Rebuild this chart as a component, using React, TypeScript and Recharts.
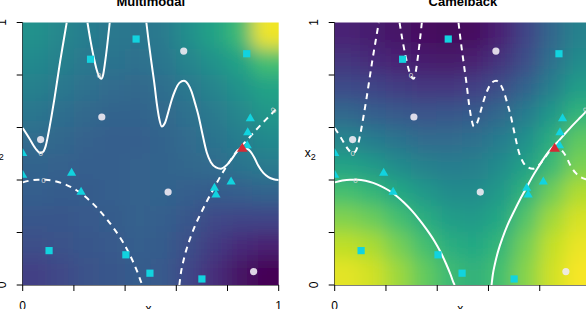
import { ComposedChart, Scatter, XAxis, YAxis } from "recharts"

// heat grid: column centres (x) and row centres (y, top row first)
const gridX = [0.05, 0.15, 0.25, 0.35, 0.45, 0.55, 0.65, 0.75, 0.85, 0.95]
const gridY = [0.95, 0.85, 0.75, 0.65, 0.55, 0.45, 0.35, 0.25, 0.15, 0.05]

const multimodalHeat = [
  [0.50, 0.46, 0.42, 0.40, 0.39, 0.41, 0.49, 0.58, 0.68, 0.98],
  [0.47, 0.43, 0.40, 0.38, 0.37, 0.39, 0.45, 0.51, 0.58, 0.70],
  [0.43, 0.40, 0.37, 0.35, 0.34, 0.36, 0.40, 0.45, 0.51, 0.58],
  [0.39, 0.36, 0.34, 0.32, 0.32, 0.34, 0.37, 0.41, 0.46, 0.52],
  [0.35, 0.33, 0.31, 0.30, 0.30, 0.32, 0.35, 0.38, 0.42, 0.47],
  [0.32, 0.31, 0.30, 0.30, 0.31, 0.32, 0.33, 0.35, 0.38, 0.41],
  [0.30, 0.29, 0.29, 0.30, 0.31, 0.32, 0.30, 0.29, 0.30, 0.32],
  [0.27, 0.27, 0.28, 0.29, 0.31, 0.30, 0.27, 0.22, 0.20, 0.20],
  [0.24, 0.25, 0.27, 0.28, 0.30, 0.29, 0.24, 0.17, 0.12, 0.09],
  [0.19, 0.22, 0.25, 0.27, 0.29, 0.28, 0.21, 0.13, 0.05, 0.00],
]

const camelbackHeat = [
  [0.10, 0.08, 0.06, 0.04, 0.02, 0.04, 0.10, 0.20, 0.33, 0.44],
  [0.15, 0.12, 0.10, 0.08, 0.07, 0.09, 0.15, 0.24, 0.37, 0.48],
  [0.23, 0.20, 0.18, 0.16, 0.16, 0.19, 0.24, 0.32, 0.43, 0.55],
  [0.33, 0.30, 0.28, 0.26, 0.27, 0.29, 0.34, 0.42, 0.53, 0.65],
  [0.45, 0.42, 0.38, 0.35, 0.35, 0.37, 0.42, 0.50, 0.62, 0.75],
  [0.58, 0.54, 0.48, 0.44, 0.42, 0.43, 0.48, 0.57, 0.68, 0.80],
  [0.70, 0.66, 0.60, 0.53, 0.48, 0.48, 0.54, 0.65, 0.78, 0.88],
  [0.81, 0.77, 0.70, 0.62, 0.55, 0.54, 0.60, 0.73, 0.86, 0.94],
  [0.90, 0.87, 0.79, 0.70, 0.62, 0.60, 0.66, 0.79, 0.91, 0.97],
  [0.96, 0.93, 0.85, 0.76, 0.68, 0.64, 0.70, 0.82, 0.93, 0.99],
]

// zero contour of the multimodal surface (three pieces)
const contourA1 = [
  [0, 0.598], [0.025, 0.56], [0.05, 0.52], [0.068, 0.503], [0.08, 0.508], [0.09, 0.53],
  [0.1, 0.575], [0.112, 0.64], [0.124, 0.71], [0.135, 0.78], [0.146, 0.85], [0.158, 0.92], [0.172, 1.0],
]
const contourA2 = [
  [0.253, 1.0], [0.265, 0.93], [0.277, 0.87], [0.289, 0.82], [0.3, 0.792], [0.307, 0.786],
  [0.314, 0.8], [0.322, 0.85], [0.331, 0.92], [0.34, 1.0],
]
const contourA3 = [
  [0.483, 1.0], [0.493, 0.92], [0.504, 0.84], [0.514, 0.77], [0.524, 0.69], [0.533, 0.635],
  [0.543, 0.604], [0.556, 0.618], [0.569, 0.66], [0.582, 0.705], [0.595, 0.74], [0.612, 0.77],
  [0.63, 0.778], [0.646, 0.765], [0.66, 0.736], [0.674, 0.69], [0.686, 0.648], [0.7, 0.585],
  [0.719, 0.505], [0.735, 0.468], [0.755, 0.448], [0.774, 0.443], [0.795, 0.455], [0.815, 0.478],
  [0.835, 0.505], [0.857, 0.524], [0.875, 0.52], [0.89, 0.508], [0.905, 0.485], [0.92, 0.455],
  [0.94, 0.427], [0.96, 0.411], [0.98, 0.403], [1.0, 0.4],
]
// zero contour of the camelback surface (two pieces)
const contourB1 = [
  [0, 0.391], [0.03, 0.398], [0.06, 0.401], [0.09, 0.401], [0.12, 0.397], [0.15, 0.389],
  [0.18, 0.377], [0.21, 0.361], [0.24, 0.34], [0.27, 0.314], [0.3, 0.284], [0.33, 0.249],
  [0.36, 0.21], [0.39, 0.166], [0.415, 0.122], [0.435, 0.08], [0.452, 0.04], [0.463, 0.01], [0.468, 0],
]
const contourB2 = [
  [0.612, 0], [0.617, 0.04], [0.625, 0.08], [0.638, 0.13], [0.655, 0.18], [0.675, 0.23],
  [0.697, 0.275], [0.72, 0.32], [0.745, 0.365], [0.77, 0.41], [0.795, 0.45], [0.82, 0.488],
  [0.845, 0.52], [0.87, 0.545], [0.9, 0.578], [0.93, 0.61], [0.96, 0.64], [0.98, 0.66], [1.0, 0.68],
]
const labelsA = [[0.07, 0.503, 0], [0.298, 0.8, 0]]
const labelsB = [[0.081, 0.4, 0], [0.979, 0.667, -40]]

// design points
const squarePts = [[0.443, 0.937], [0.265, 0.86], [0.875, 0.881], [0.103, 0.131], [0.403, 0.115], [0.497, 0.045], [0.7, 0.023]]
const circlePts = [[0.629, 0.891], [0.309, 0.64], [0.07, 0.554], [0.568, 0.354], [0.902, 0.051]]
const trianglePts = [
  [0.889, 0.637], [0.879, 0.583], [0.877, 0.534], [0, 0.504], [0, 0.422],
  [0.191, 0.429], [0.228, 0.357], [0.749, 0.372], [0.755, 0.346], [0.814, 0.396],
]
const bestPts = [[0.858, 0.522]]

const axisTicks = [0, 0.2, 0.4, 0.6, 0.8, 1]

const VIRIDIS = ["#440154", "#482475", "#414487", "#355f8d", "#2a788e", "#21918c", "#22a884", "#44bf70", "#7ad151", "#bddf26", "#fde725"]
const CYAN = "#12d3df"
const FONT = "'Liberation Sans', Arial, sans-serif"

function viridis(v: number) {
  const t = Math.max(0, Math.min(1, v)) * 10
  const k = Math.min(9, Math.floor(t))
  const f = t - k
  const a = VIRIDIS[k], b = VIRIDIS[k + 1]
  const ch = (s: string, o: number) => parseInt(s.slice(o, o + 2), 16)
  const mix = (o: number) => Math.round(ch(a, o) + (ch(b, o) - ch(a, o)) * f)
  return `rgb(${mix(1)},${mix(3)},${mix(5)})`
}

const toXY = (pts: number[][]) => pts.map(([x, y]) => ({ x, y }))

function heatCells(rows: number[][]) {
  const out: any[] = []
  rows.forEach((row, j) => row.forEach((v, i) => out.push({ x: gridX[i], y: gridY[j], v, i, j })))
  return out
}

const CW = 25.6, CH = 26.25, PAD = 30

function HeatCell(p: any) {
  const { cx, cy, payload } = p
  let x0 = cx - CW / 2 - 0.5, x1 = cx + CW / 2 + 0.5
  let y0 = cy - CH / 2 - 0.5, y1 = cy + CH / 2 + 0.5
  if (payload.i === 0) x0 -= PAD
  if (payload.i === 9) x1 += PAD
  if (payload.j === 0) y0 -= PAD
  if (payload.j === 9) y1 += PAD
  return <rect x={x0} y={y0} width={x1 - x0} height={y1 - y0} fill={viridis(payload.v)} />
}

const NoMark = () => <g />
const Square = (p: any) => <rect x={p.cx - 3.6} y={p.cy - 3.6} width={7.2} height={7.2} fill={CYAN} />
const Dot = (p: any) => <circle cx={p.cx} cy={p.cy} r={3.6} fill="#eeeaf3" fillOpacity={0.9} />
const Tri = (p: any) => (
  <polygon points={`${p.cx},${p.cy - 4.6} ${p.cx - 4.6},${p.cy + 3.4} ${p.cx + 4.6},${p.cy + 3.4}`} fill={CYAN} />
)
const BestTri = (p: any) => (
  <polygon points={`${p.cx},${p.cy - 5.2} ${p.cx - 5.4},${p.cy + 3.8} ${p.cx + 5.4},${p.cy + 3.8}`} fill="#d42a35" />
)
const ContourLabel = (p: any) => (
  <text x={p.cx} y={p.cy + 3} fontSize={8} fill="#d8d8d8" textAnchor="middle" fontFamily={FONT}
    transform={`rotate(${p.payload.a} ${p.cx} ${p.cy})`}>0</text>
)

const XTick = (p: any) => {
  const v = p.payload.value
  if (v !== 0 && v !== 1) return <g />
  return <text x={p.x} y={p.y + 19} textAnchor="middle" fontSize={12} fontFamily={FONT} fill="#000">{v}</text>
}
const YTick = (p: any) => {
  const v = p.payload.value
  if (v !== 0 && v !== 1) return <g />
  return (
    <text transform={`translate(${p.x - 10.7},${p.y}) rotate(-90)`} textAnchor="middle" fontSize={12}
      fontFamily={FONT} fill="#000">{v}</text>
  )
}

interface PanelProps {
  width: number
  yAxisWidth: number
  right: number
  heat: number[][]
  aDashed: boolean
}

function Panel({ width, yAxisWidth, right, heat, aDashed }: PanelProps) {
  const aStyle = aDashed ? "6 5" : undefined
  const bStyle = aDashed ? undefined : "6 5"
  const lines: [number[][], string | undefined][] = [
    [contourA1, aStyle], [contourA2, aStyle], [contourA3, aStyle],
    [contourB1, bStyle], [contourB2, bStyle],
  ]
  const labels = [...labelsA, ...labelsB].map(([x, y, a]) => ({ x, y, a }))
  return (
    <ComposedChart width={width} height={309} margin={{ top: 22.5, right, bottom: 0, left: 0 }}>
      <XAxis type="number" dataKey="x" domain={[0, 1]} ticks={axisTicks} allowDataOverflow
        height={24} tickSize={6} tickMargin={0} stroke="#000" tick={XTick} interval={0} />
      <YAxis type="number" dataKey="y" domain={[0, 1]} ticks={axisTicks} allowDataOverflow
        width={yAxisWidth} tickSize={6} tickMargin={0} stroke="#000" tick={YTick} interval={0} />
      <Scatter className="heat" data={heatCells(heat)} shape={HeatCell} isAnimationActive={false} />
      {lines.map(([pts, dash], k) => (
        <Scatter key={k} data={toXY(pts)} shape={NoMark} lineJointType="monotoneX" isAnimationActive={false}
          line={{ stroke: "#fff", strokeWidth: 2, strokeDasharray: dash, fill: "none" }} />
      ))}
      <Scatter data={labels} shape={ContourLabel} isAnimationActive={false} />
      <Scatter data={toXY(squarePts)} shape={Square} isAnimationActive={false} />
      <Scatter data={toXY(circlePts)} shape={Dot} isAnimationActive={false} />
      <Scatter data={toXY(trianglePts)} shape={Tri} isAnimationActive={false} />
      <Scatter data={toXY(bestPts)} shape={BestTri} isAnimationActive={false} />
    </ComposedChart>
  )
}

export default function App() {
  return (
    <div style={{ position: "absolute", left: 0, top: 0, width: 586, height: 309, overflow: "hidden", background: "#fff" }}>
      <style>{`.heat { filter: url(#heatBlur); }`}</style>
      <svg width={0} height={0} style={{ position: "absolute" }}>
        <defs>
          <filter id="heatBlur" x="-5%" y="-5%" width="110%" height="110%">
            <feGaussianBlur stdDeviation={9} />
          </filter>
        </defs>
      </svg>
      <div style={{ position: "absolute", left: 0, top: 0 }}>
        <Panel width={293} yAxisWidth={22.7} right={14.3} heat={multimodalHeat} aDashed={false} />
      </div>
      <div style={{ position: "absolute", left: 293, top: 0 }}>
        <Panel width={310} yAxisWidth={41.7} right={12} heat={camelbackHeat} aDashed={true} />
      </div>
      <svg width={586} height={309} style={{ position: "absolute", left: 0, top: 0, pointerEvents: "none" }}
        fontFamily={FONT}>
        <text x={150.7} y={6} textAnchor="middle" fontSize={13} fontWeight="bold">Multimodal</text>
        <text x={462.9} y={6} textAnchor="middle" fontSize={13} fontWeight="bold">Camelback</text>
        <text x={-7.3} y={156.5} fontSize={12}>x<tspan fontSize={9} dy={3}>2</tspan></text>
        <text x={304.7} y={156.5} fontSize={12}>x<tspan fontSize={9} dy={3}>2</tspan></text>
        <text x={145.5} y={312.7} fontSize={12}>x<tspan fontSize={9} dy={3}>1</tspan></text>
        <text x={457.3} y={312.7} fontSize={12}>x<tspan fontSize={9} dy={3}>1</tspan></text>
      </svg>
    </div>
  )
}
